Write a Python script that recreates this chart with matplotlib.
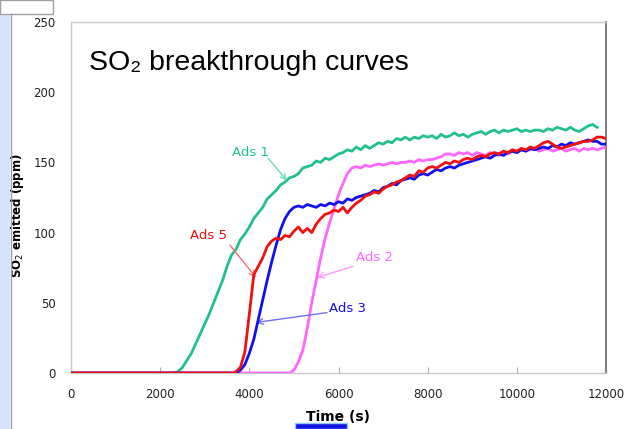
import matplotlib
matplotlib.use("Agg")
import matplotlib.pyplot as plt
from matplotlib.patches import Rectangle
from matplotlib.lines import Line2D

# ---------------- data ----------------
ads1_t = [0, 2300, 2400, 2500, 2600, 2700, 2800, 2900, 3000, 3100, 3200, 3300, 3400, 3500, 3600,
          3700, 3800, 3900, 4000, 4100, 4200, 4300, 4400, 4500, 4600, 4700, 4800, 4900, 5000,
          5100, 5200, 5300, 5400, 5500, 5600, 5700, 5800, 5900, 6000, 6100, 6200, 6300, 6400,
          6500, 6600, 6700, 6800, 6900, 7000, 7100, 7200, 7300, 7400, 7500, 7600, 7700, 7800,
          7900, 8000, 8100, 8200, 8300, 8400, 8500, 8600, 8700, 8800, 8900, 9000, 9100, 9200,
          9300, 9400, 9500, 9600, 9700, 9800, 9900, 10000, 10100, 10200, 10300, 10400, 10500,
          10600, 10700, 10800, 10900, 11000, 11100, 11200, 11300, 11400, 11500, 11600, 11700, 11800]
ads1_y = [0, 0, 1, 4, 9, 14, 21, 28, 35, 42, 50, 58, 66, 76, 84,
          88, 95, 99, 104, 110, 114, 118, 124, 127, 130, 134, 136, 139, 140,
          142, 146, 147, 148, 151, 150, 153, 152, 154, 156, 157, 159, 158, 161,
          159, 162, 160, 162, 164, 163, 165, 164, 167, 166, 168, 166, 168, 167,
          169, 168, 169, 167, 170, 168, 169, 171, 169, 170, 168, 170, 171, 172,
          170, 172, 173, 171, 173, 172, 173, 174, 172, 173, 172, 173, 173,
          172, 174, 173, 175, 174, 173, 175, 173, 172, 174, 176, 177, 175]

ads2_t = [0, 4900, 5000, 5100, 5200, 5300, 5400, 5500, 5600, 5700, 5800, 5900, 6000, 6100,
          6200, 6300, 6400, 6500, 6600, 6700, 6800, 6900, 7000, 7100, 7200, 7300, 7400, 7500,
          7600, 7700, 7800, 7900, 8000, 8100, 8200, 8300, 8400, 8500, 8600, 8700, 8800, 8900,
          9000, 9100, 9200, 9300, 9400, 9500, 9600, 9700, 9800, 9900, 10000, 10100, 10200,
          10300, 10400, 10500, 10600, 10700, 10800, 10900, 11000, 11100, 11200, 11300, 11400,
          11500, 11600, 11700, 11800, 11900, 12000]
ads2_y = [0, 0, 2, 8, 16, 32, 50, 66, 82, 96, 107, 117, 127, 135,
          142, 146, 147, 146, 148, 147, 148, 149, 148, 149, 150, 149, 150, 150,
          151, 150, 152, 151, 152, 152, 153, 154, 156, 156, 155, 157, 156, 157,
          155, 157, 156, 155, 157, 156, 155, 157, 156, 158, 157, 159, 158,
          159, 160, 158, 159, 160, 158, 159, 160, 158, 159, 160, 158,
          160, 159, 160, 159, 160, 161]

ads3_t = [0, 3700, 3800, 3900, 4000, 4100, 4200, 4300, 4400, 4500, 4600, 4700, 4800, 4900,
          5000, 5100, 5200, 5300, 5400, 5500, 5600, 5700, 5800, 5900, 6000, 6100, 6200, 6300,
          6400, 6500, 6600, 6700, 6800, 6900, 7000, 7100, 7200, 7300, 7400, 7500, 7600, 7700,
          7800, 7900, 8000, 8100, 8200, 8300, 8400, 8500, 8600, 8700, 8800, 8900, 9000, 9100,
          9200, 9300, 9400, 9500, 9600, 9700, 9800, 9900, 10000, 10100, 10200, 10300, 10400,
          10500, 10600, 10700, 10800, 10900, 11000, 11100, 11200, 11300, 11400, 11500, 11600,
          11700, 11800, 11900, 12000]
ads3_y = [0, 0, 2, 6, 14, 24, 38, 52, 66, 79, 91, 102, 110, 115,
          118, 119, 118, 120, 119, 118, 120, 119, 121, 120, 122, 121, 124, 123,
          125, 126, 127, 128, 130, 129, 132, 133, 135, 134, 137, 138, 139, 138,
          141, 142, 141, 143, 145, 144, 146, 147, 146, 148, 149, 150, 151, 152,
          153, 154, 153, 155, 156, 155, 157, 158, 157, 159, 158, 160, 159,
          160, 161, 160, 162, 161, 163, 162, 164, 163, 164, 165, 166,
          165, 165, 163, 163]

ads5_t = [0, 3650, 3700, 3800, 3900, 4000, 4100, 4200, 4300, 4400, 4500, 4600, 4700, 4800,
          4900, 5000, 5100, 5200, 5300, 5400, 5500, 5600, 5700, 5800, 5900, 6000, 6100, 6200,
          6300, 6400, 6500, 6600, 6700, 6800, 6900, 7000, 7100, 7200, 7300, 7400, 7500, 7600,
          7700, 7800, 7900, 8000, 8100, 8200, 8300, 8400, 8500, 8600, 8700, 8800, 8900, 9000,
          9100, 9200, 9300, 9400, 9500, 9600, 9700, 9800, 9900, 10000, 10100, 10200, 10300,
          10400, 10500, 10600, 10700, 10800, 10900, 11000, 11100, 11200, 11300, 11400, 11500,
          11600, 11700, 11800, 11900, 12000]
ads5_y = [0, 0, 1, 4, 15, 42, 70, 76, 82, 90, 94, 96, 95, 98,
          97, 101, 104, 100, 103, 100, 106, 110, 113, 114, 116, 115, 118, 114,
          118, 121, 123, 126, 127, 129, 128, 131, 133, 134, 136, 137, 139, 141,
          140, 144, 143, 146, 147, 146, 148, 150, 149, 151, 150, 152, 153, 152,
          154, 155, 154, 156, 157, 156, 158, 157, 159, 158, 160, 159, 161,
          160, 162, 164, 165, 163, 161, 160, 161, 162, 163, 164, 165,
          165, 166, 168, 168, 167]

x_ticks = [0, 2000, 4000, 6000, 8000, 10000, 12000]
y_ticks = [0, 50, 100, 150, 200, 250]

c_green = "#22C08E"
c_magenta = "#FF66FF"
c_blue = "#1010F0"
c_red = "#F01010"

# ---------------- figure ----------------
fig = plt.figure(figsize=(6.27, 4.29), dpi=100)
fig.patch.set_facecolor("white")

W, H = 627, 429
def fx(px):
    return px / W
def fy(py):
    return 1 - py / H

ax = fig.add_axes([fx(71), fy(373), fx(606) - fx(71), fy(22) - fy(373)])
ax.set_xlim(0, 12000)
ax.set_ylim(0, 250)

lw = 2.0
ax.plot(ads1_t, ads1_y, color=c_green, lw=lw, zorder=3)
ax.plot(ads2_t, ads2_y, color=c_magenta, lw=lw, zorder=3)
ax.plot(ads3_t, ads3_y, color=c_blue, lw=lw, zorder=4)
ax.plot(ads5_t, ads5_y, color=c_red, lw=lw, zorder=5)

for side in ["left", "bottom", "top"]:
    ax.spines[side].set_color("#C8C8C8")
    ax.spines[side].set_linewidth(1.0)
ax.spines["right"].set_color("#808080")
ax.spines["right"].set_linewidth(1.5)

ax.set_xticks(x_ticks)
ax.set_yticks(y_ticks)
ax.tick_params(axis="x", direction="in", length=4, color="#B0B0B0", pad=11,
               labelsize=8.5, labelcolor="#222222")
ax.tick_params(axis="y", length=0, pad=11, labelsize=8.5, labelcolor="#222222")

ax.set_xlabel("Time (s)", fontsize=10, fontweight="bold", labelpad=6)
ax.set_ylabel("SO$_2$ emitted (ppm)", fontsize=8.5, fontweight="bold")
ax.yaxis.set_label_coords((26 - 71) / 535, (373 - 215) / 351)

ax.text(400, 216, "SO₂ breakthrough curves", fontsize=20.5, family="Liberation Sans",
        va="baseline", ha="left", color="black")

arrow_kw = dict(arrowstyle="->", lw=1.0, shrinkA=0, shrinkB=0)
ax.annotate("", xy=(4845, 137), xytext=(4420, 153),
            arrowprops=dict(color="#70D8B8", **arrow_kw))
ax.text(4015, 157, "Ads 1", color=c_green, fontsize=9.5, ha="center", va="center")

ax.annotate("", xy=(4150, 68), xytext=(3566, 91),
            arrowprops=dict(color="#F07070", **arrow_kw))
ax.text(3073, 98, "Ads 5", color=c_red, fontsize=9.5, ha="center", va="center")

ax.annotate("", xy=(5518, 68), xytext=(6325, 76),
            arrowprops=dict(color="#FF99FF", **arrow_kw))
ax.text(6800, 82, "Ads 2", color=c_magenta, fontsize=9.5, ha="center", va="center")

ax.annotate("", xy=(4150, 36), xytext=(5742, 43),
            arrowprops=dict(color="#7070F0", **arrow_kw))
ax.text(6200, 46, "Ads 3", color=c_blue, fontsize=9.5, ha="center", va="center")

# ---------------- slide artefacts ----------------
fig.patches.append(Rectangle((0, fy(429)), fx(10), fy(14) - fy(429), transform=fig.transFigure,
                             facecolor="#D3E3FA", edgecolor="none", zorder=0))
fig.lines.append(Line2D([fx(10.5), fx(10.5)], [fy(14), 0], transform=fig.transFigure,
                        color="#A0A0A0", lw=1.0))
fig.patches.append(Rectangle((0, fy(14)), fx(53), fy(0) - fy(14), transform=fig.transFigure,
                             facecolor="white", edgecolor="#A0A0A0", lw=1.0, zorder=1))
fig.patches.append(Rectangle((fx(295), 0), fx(52), fy(423), transform=fig.transFigure,
                             facecolor="#1515E0", edgecolor="#8EC8F8", lw=1.0, zorder=1))

fig.savefig("out.png", dpi=100)
